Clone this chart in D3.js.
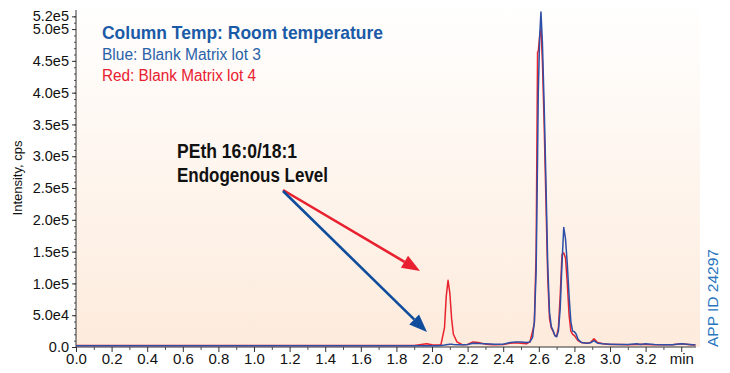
<!DOCTYPE html>
<html>
<head>
<meta charset="utf-8">
<script src="https://cdn.jsdelivr.net/npm/d3@7"></script>
<style>
  body { margin: 0; background: #fff; }
  svg { display: block; font-family: "Liberation Sans", Arial, sans-serif; }
  .narrow { font-family: "Liberation Sans Narrow", "Arial Narrow", "Liberation Sans", Arial, sans-serif; font-stretch: condensed; }
</style>
</head>
<body>
<svg width="730" height="373"></svg>
<script>
// retention time (min)
var times = [0, 0.5, 1.0, 1.5, 1.9, 1.95, 1.97, 2.0, 2.03, 2.05, 2.07, 2.08, 2.09, 2.10, 2.11, 2.12, 2.14, 2.17,
  2.2, 2.23, 2.26, 2.3, 2.35, 2.4, 2.44, 2.47, 2.5, 2.53, 2.55, 2.565, 2.575, 2.585, 2.593, 2.597, 2.605, 2.612,
  2.62, 2.63, 2.64, 2.65, 2.66, 2.67, 2.68, 2.69, 2.7, 2.71, 2.72, 2.73, 2.74, 2.75, 2.76, 2.77, 2.78, 2.79,
  2.8, 2.81, 2.82, 2.84, 2.87, 2.89, 2.91, 2.93, 2.96, 3.0, 3.05, 3.1, 3.15, 3.17, 3.2, 3.25, 3.3, 3.35, 3.4, 3.45, 3.48];

// Red: Blank Matrix lot 4 (cps)
var redLot4 = [2500, 2500, 2500, 2500, 2500, 4500, 5000, 3500, 3000, 3500, 30000, 80000, 105000, 85000, 45000, 20000, 8000, 3500,
  4000, 8000, 7000, 4500, 3500, 4000, 6000, 6500, 6000, 5000, 8000, 25000, 38000, 150000, 464000, 465000, 490000, 500000,
  450000, 350000, 230000, 110000, 45000, 30000, 25000, 18000, 17000, 30000, 80000, 145000, 148000, 140000, 100000, 50000, 25000, 20000,
  18000, 14000, 10000, 7000, 6000, 7000, 13000, 7000, 5000, 4000, 4000, 3500, 4000, 4500, 4000, 3500, 3500, 3500, 5000, 3500, 3000];

// Blue: Blank Matrix lot 3 (cps)
var blueLot3 = [2000, 2000, 2000, 2000, 2000, 2000, 2000, 2000, 2000, 2500, 3000, 3500, 4000, 4500, 4500, 4000, 3500, 3500,
  4000, 6000, 5500, 5000, 4500, 4500, 7000, 8000, 8000, 7000, 8000, 15000, 40000, 120000, 300000, 400000, 490000, 527000,
  480000, 380000, 260000, 130000, 55000, 32000, 26000, 18000, 16000, 25000, 60000, 130000, 188000, 170000, 130000, 80000, 40000, 25000,
  24000, 20000, 12000, 7000, 6000, 6500, 10000, 6000, 5000, 4500, 4000, 4000, 5000, 4000, 5000, 4000, 3500, 3500, 5000, 4000, 3000];

var yTicks = [0, 5e4, 1e5, 1.5e5, 2e5, 2.5e5, 3e5, 3.5e5, 4e5, 4.5e5, 5e5, 5.2e5];
var xTicks = [0, 0.2, 0.4, 0.6, 0.8, 1.0, 1.2, 1.4, 1.6, 1.8, 2.0, 2.2, 2.4, 2.6, 2.8, 3.0, 3.2, 3.4];

var svg = d3.select("svg");
var plotLeft = 76, plotRight = 696, plotTop = 10, plotBottom = 347;

var x = d3.scaleLinear().domain([0, 3.483]).range([plotLeft, plotRight]);
var y = d3.scaleLinear().domain([0, 5.3e5]).range([plotBottom, plotTop]);

// background gradient
var grad = svg.append("defs").append("linearGradient")
    .attr("id", "bg").attr("x1", 0).attr("y1", 0).attr("x2", 0).attr("y2", 1);
grad.append("stop").attr("offset", "0%").attr("stop-color", "#ffffff");
grad.append("stop").attr("offset", "100%").attr("stop-color", "#fdebdc");
svg.append("rect")
    .attr("x", plotLeft).attr("y", 0)
    .attr("width", 700 - plotLeft).attr("height", plotBottom)
    .attr("fill", "url(#bg)");

// minor ticks
svg.append("g")
    .attr("transform", "translate(" + plotLeft + ",0)")
    .call(d3.axisLeft(y).tickValues(d3.range(0, 5.3e5, 1e4)).tickSize(2).tickFormat(""))
    .call(function(g) { g.select(".domain").remove(); })
    .selectAll("line").attr("stroke", "#555");
svg.append("g")
    .attr("transform", "translate(0," + plotBottom + ")")
    .call(d3.axisBottom(x).tickValues(d3.range(0.1, 3.45, 0.2)).tickSize(3).tickFormat(""))
    .call(function(g) { g.select(".domain").remove(); })
    .selectAll("line").attr("stroke", "#555");

// y axis
var yAxis = svg.append("g")
    .attr("transform", "translate(" + plotLeft + ",0)")
    .call(d3.axisLeft(y).tickValues(yTicks).tickSize(4).tickPadding(3)
      .tickFormat(function(d) { return d === 0 ? "0.0" : d.toExponential(1).replace("e+", "e"); }));
yAxis.select(".domain").attr("d", "M0," + plotTop + "V" + plotBottom).attr("stroke", "#333");
yAxis.selectAll("text").attr("font-size", 14.5).attr("fill", "#111").attr("font-family", "Liberation Sans, Arial, sans-serif");
yAxis.selectAll("line").attr("stroke", "#333");

// x axis
var xAxis = svg.append("g")
    .attr("transform", "translate(0," + plotBottom + ")")
    .call(d3.axisBottom(x).tickValues(xTicks).tickSize(5).tickPadding(1)
      .tickFormat(function(d) { return d === 3.4 ? "min" : d.toFixed(1); }));
xAxis.select(".domain").attr("d", "M" + plotLeft + ",0H" + plotRight).attr("stroke", "#333");
xAxis.selectAll("text").attr("font-size", 15).attr("fill", "#111").attr("font-family", "Liberation Sans, Arial, sans-serif");
xAxis.selectAll("line").attr("stroke", "#333");

// axis title
svg.append("text")
    .attr("transform", "translate(22,178) rotate(-90)")
    .attr("text-anchor", "middle")
    .attr("font-size", 13)
    .attr("fill", "#111")
    .text("Intensity, cps");

// traces
var line = d3.line()
    .x(function(d) { return x(d[0]); })
    .y(function(d) { return y(d[1]); });

svg.append("path")
    .datum(times.map(function(t, i) { return [t, redLot4[i]]; }))
    .attr("fill", "none").attr("stroke", "#e8232e").attr("stroke-width", 1.5)
    .attr("stroke-linejoin", "round")
    .attr("d", line);
svg.append("path")
    .datum(times.map(function(t, i) { return [t, blueLot3[i]]; }))
    .attr("fill", "none").attr("stroke", "#2e4fa6").attr("stroke-width", 1.5)
    .attr("stroke-linejoin", "round")
    .attr("d", line);

// legend text
svg.append("text").attr("class", "narrow")
    .attr("x", 102).attr("y", 39).attr("font-size", 19).attr("font-weight", "bold")
    .attr("fill", "#1a5aa6").attr("textLength", 281).attr("lengthAdjust", "spacingAndGlyphs")
    .text("Column Temp: Room temperature");
svg.append("text").attr("class", "narrow")
    .attr("x", 102).attr("y", 60).attr("font-size", 16)
    .attr("fill", "#2a62a8").attr("textLength", 159).attr("lengthAdjust", "spacingAndGlyphs")
    .text("Blue: Blank Matrix lot 3");
svg.append("text").attr("class", "narrow")
    .attr("x", 102).attr("y", 81).attr("font-size", 16)
    .attr("fill", "#e8202f").attr("textLength", 154).attr("lengthAdjust", "spacingAndGlyphs")
    .text("Red: Blank Matrix lot 4");

// annotation
svg.append("text").attr("class", "narrow")
    .attr("x", 177).attr("y", 158).attr("font-size", 20).attr("font-weight", "bold")
    .attr("fill", "#111").attr("textLength", 120).attr("lengthAdjust", "spacingAndGlyphs")
    .text("PEth 16:0/18:1");
svg.append("text").attr("class", "narrow")
    .attr("x", 177).attr("y", 182).attr("font-size", 20).attr("font-weight", "bold")
    .attr("fill", "#111").attr("textLength", 151).attr("lengthAdjust", "spacingAndGlyphs")
    .text("Endogenous Level");

function arrow(x1, y1, x2, y2, color) {
  var ang = Math.atan2(y2 - y1, x2 - x1);
  var len = 18, half = 7;
  var bx = x2 - len * Math.cos(ang), by = y2 - len * Math.sin(ang);
  svg.append("line")
      .attr("x1", x1).attr("y1", y1).attr("x2", bx).attr("y2", by)
      .attr("stroke", color).attr("stroke-width", 2.6);
  svg.append("path")
      .attr("d", "M" + x2 + "," + y2 +
        "L" + (bx + half * Math.sin(ang)) + "," + (by - half * Math.cos(ang)) +
        "L" + (bx - half * Math.sin(ang)) + "," + (by + half * Math.cos(ang)) + "Z")
      .attr("fill", color);
}
arrow(283, 190, 420, 271, "#e8202f");
arrow(283, 191, 427, 332, "#0f4c9c");

// app id
svg.append("text")
    .attr("transform", "translate(718,347) rotate(-90)")
    .attr("font-size", 15.5)
    .attr("fill", "#2a74c0")
    .text("APP ID 24297");
</script>
</body>
</html>
